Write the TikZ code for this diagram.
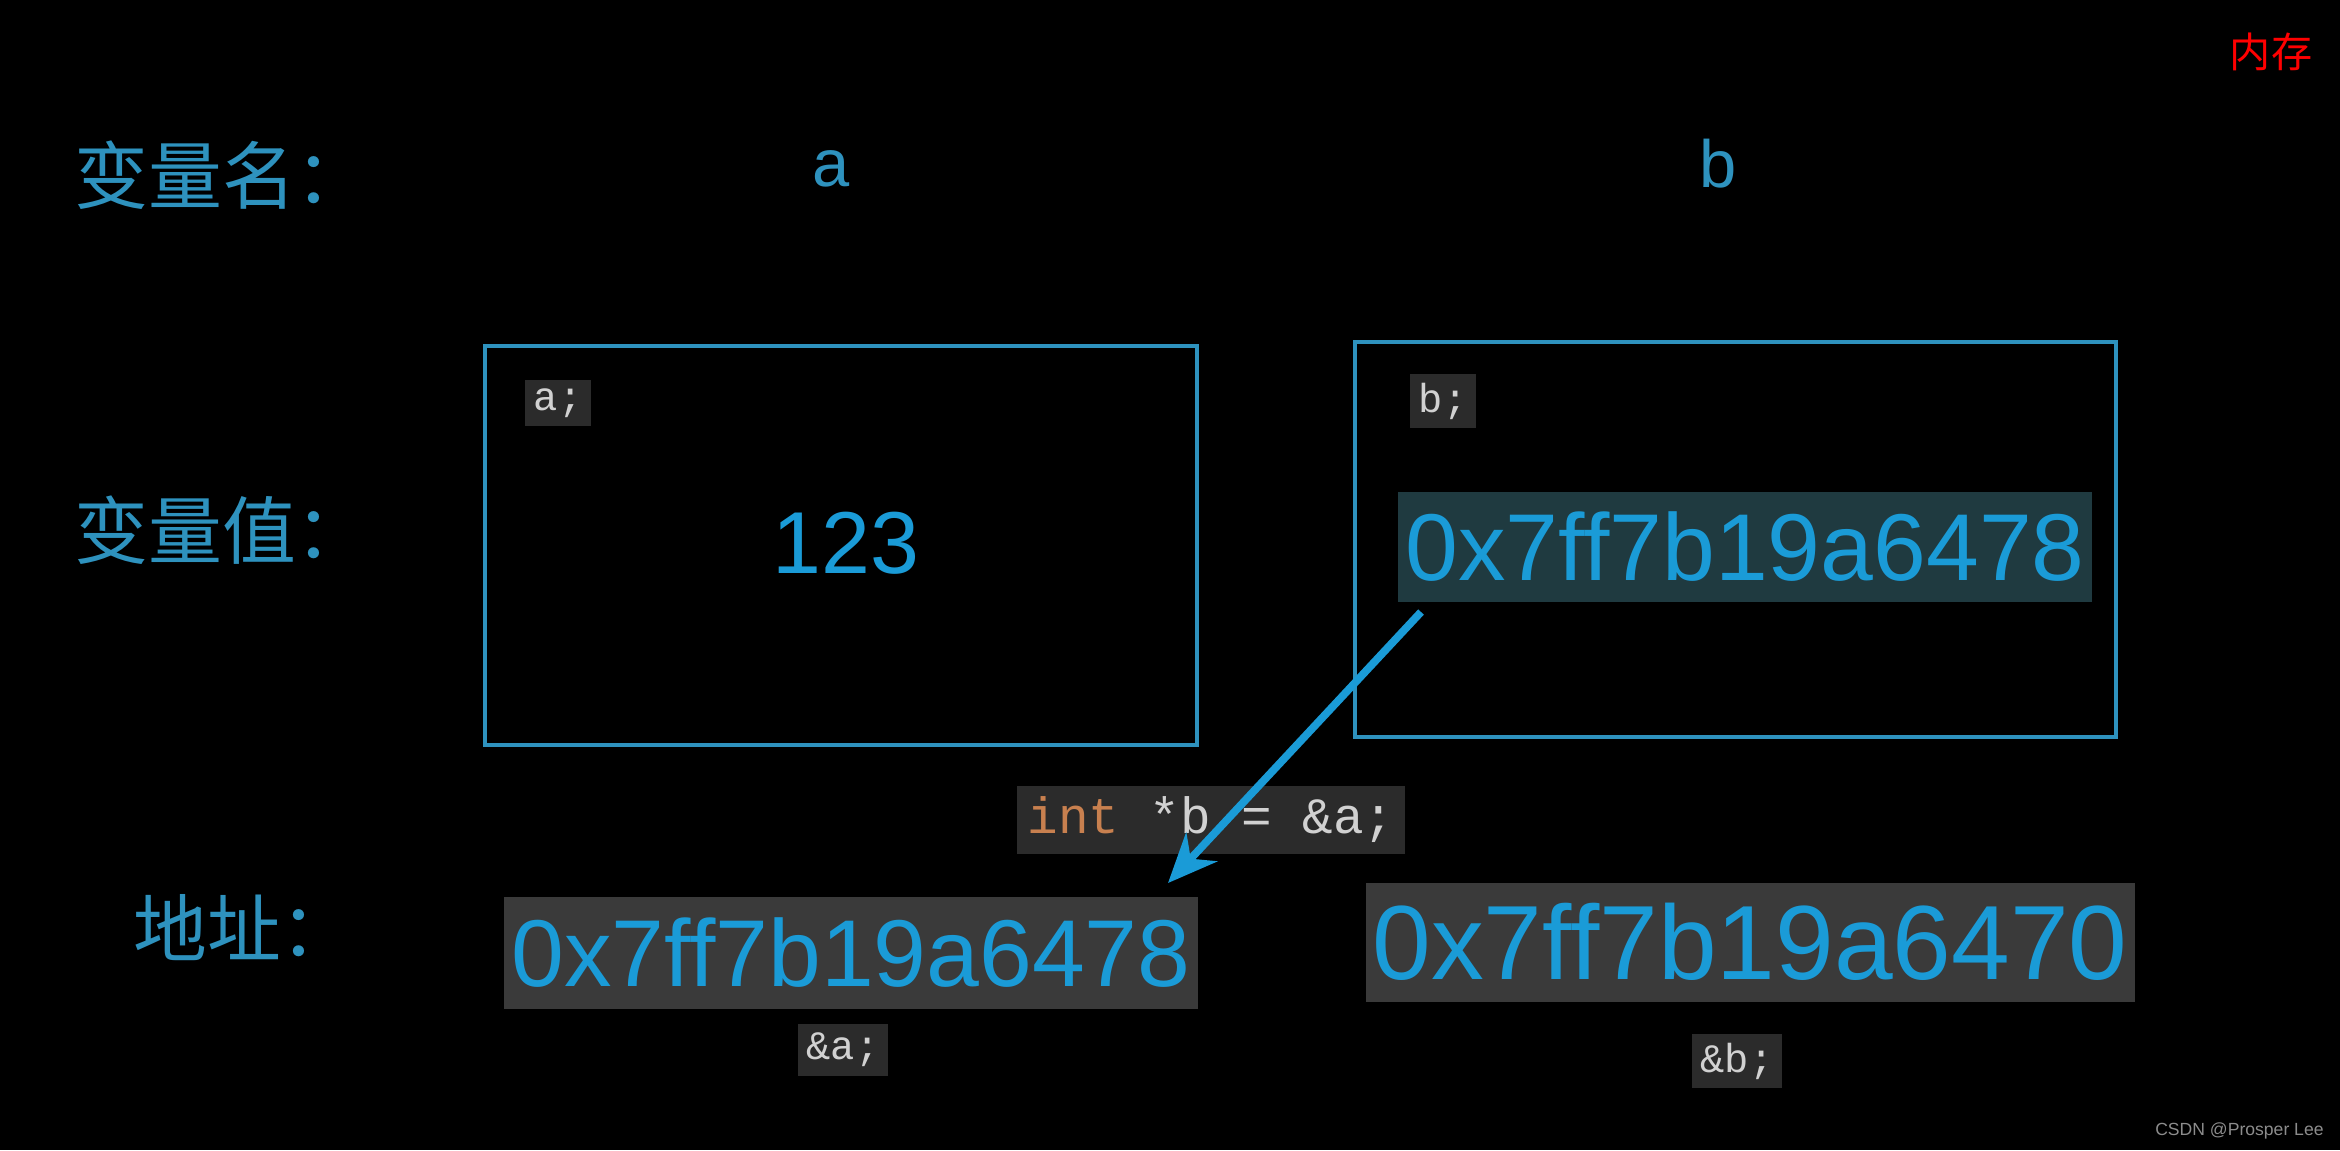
\documentclass[tikz,border=0pt]{standalone}
\usepackage{fontspec}
\usetikzlibrary{arrows.meta}
\setmainfont{Liberation Sans}
\setmonofont{Liberation Mono}
\newfontfamily\cjk{Noto Sans CJK SC}
\definecolor{cy}{HTML}{1A9BD7}
\definecolor{lab}{HTML}{2E92BE}
\definecolor{codebg}{HTML}{2B2B2B}
\definecolor{addrbg}{HTML}{3A3A3A}
\definecolor{tealbg}{HTML}{1F3A40}
\begin{document}
\begin{tikzpicture}[x=0.01cm,y=-0.01cm,
  lbl/.style={text=lab,font=\cjk\fontsize{21}{24}\selectfont,inner sep=0},
  memb/.style={draw=lab,line width=1.3pt},
  code/.style={fill=codebg,text=black!18,font=\ttfamily\fontsize{14.5}{16}\selectfont,inner sep=3pt},
  scode/.style={code,font=\ttfamily\fontsize{11.5}{13}\selectfont,inner sep=2.5pt},
  addr/.style={fill=addrbg,text=cy,font=\fontsize{27}{30}\selectfont,inner sep=2pt}]
\useasboundingbox[fill=black] (0,0) rectangle (2340,1150);
\node[text=red,font=\cjk\fontsize{11.7}{13}\selectfont] (mem) at (2271,52) {内存};
\node[lbl] (n1) at (222,175) {变量名：};
\node[lbl] (n2) at (222,530) {变量值：};
\node[lbl] (n3) at (244,928) {地址：};
\node[text=lab,font=\fontsize{19}{22}\selectfont] (va) at (831,169) {a};
\node[text=lab,font=\fontsize{19}{22}\selectfont] (vb) at (1718,164) {b};
\draw[memb] (485,346) rectangle (1197,745);
\draw[memb] (1355,342) rectangle (2116,737);
\node[scode] (ca) at (558,403) {a;};
\node[scode] (cb) at (1443,401) {b;};
\node[text=cy,font=\fontsize{25}{28}\selectfont] (v123) at (846,543) {123};
\node[fill=tealbg,text=cy,font=\fontsize{27}{30}\selectfont,inner sep=2pt,minimum height=109*0.2845pt] (pb) at (1745,547) {0x7ff7b19a6478};
\node[addr,minimum width=691*0.2845pt,minimum height=112*0.2845pt] (aa) at (851,953) {0x7ff7b19a6478};
\node[addr,font=\fontsize{30}{33}\selectfont,minimum width=761*0.2845pt,minimum height=119*0.2845pt] (ab) at (1750,942) {0x7ff7b19a6470};
\node[code] (stmt) at (1211,820) {\textcolor[HTML]{C8804F}{int} *b = \&a;};
\node[scode] (ra) at (843,1050) {\&a;};
\node[scode] (rb) at (1737,1061) {\&b;};
\coordinate (s) at (1421,612);
\coordinate (t) at (1168,883);
\draw[cy,line width=2.2pt,-{Stealth[length=14pt,width=12pt]}] (s) -- (t);
\node[text=black!45,font=\fontsize{5}{6}\selectfont,anchor=east] (wm) at (2336,1131) {CSDN @Prosper Lee};
\end{tikzpicture}
\end{document}
